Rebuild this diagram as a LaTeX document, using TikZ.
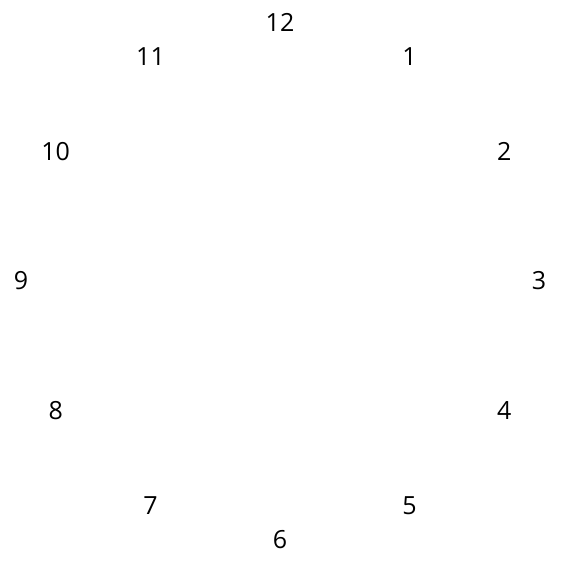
\documentclass[tikz,border=0pt]{standalone}
\usepackage{fontspec}
\setmainfont{Open Sans}
\usepackage{tikz}

\begin{document}
\begin{tikzpicture}[x=1pt,y=1pt,hour/.style={font=\fontsize{25}{30}\selectfont,inner sep=0pt}]
\useasboundingbox (-280,-283) rectangle (284,281);
\foreach \h in {1,...,12}
  \node[hour] (h\h) at ({90-30*\h}:259) {\h};
\end{tikzpicture}
\end{document}
